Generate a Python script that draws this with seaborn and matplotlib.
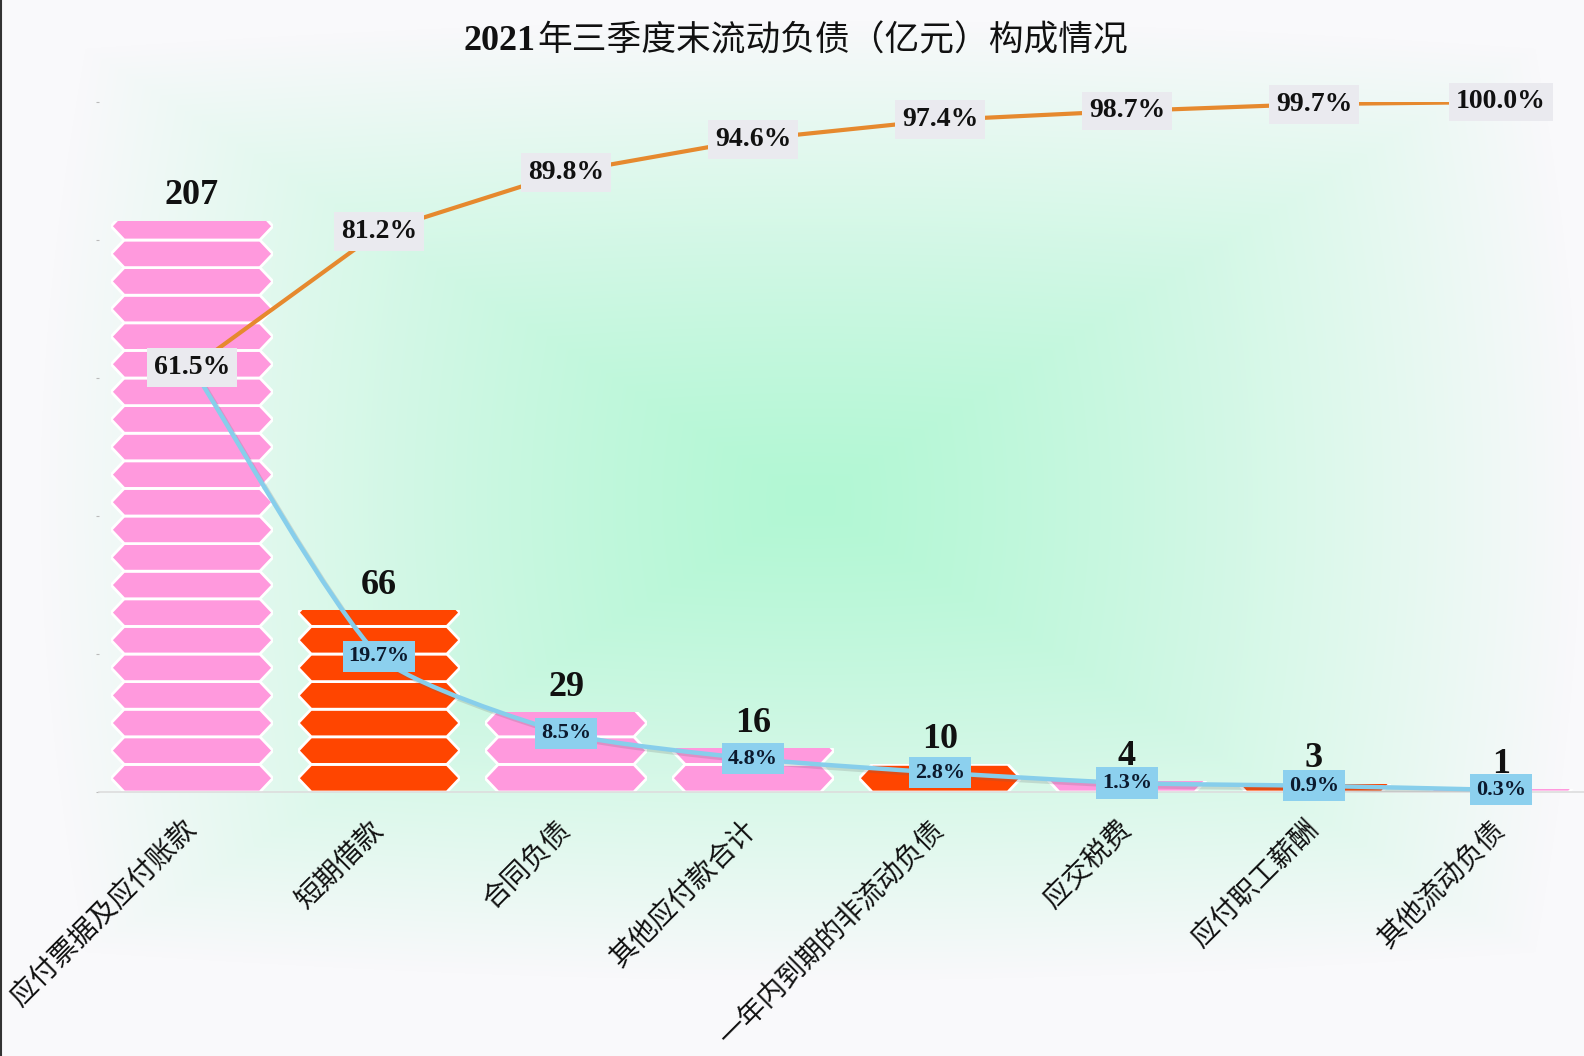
import numpy as np
import matplotlib
matplotlib.use("Agg")
import matplotlib.pyplot as plt
import seaborn as sns
from matplotlib.patches import Polygon, PathPatch
from matplotlib.path import Path
import matplotlib.patheffects as pe
from matplotlib.lines import Line2D

# ---------------- data ----------------
categories = ["应付票据及应付账款", "短期借款", "合同负债", "其他应付款合计",
              "一年内到期的非流动负债", "应交税费", "应付职工薪酬", "其他流动负债"]
values = [207, 66, 29, 16, 10, 4, 3, 1]
share_pct = [61.5, 19.7, 8.5, 4.8, 2.8, 1.3, 0.9, 0.3]
cum_pct = [61.5, 81.2, 89.8, 94.6, 97.4, 98.7, 99.7, 100.0]
bar_colors = ["#FF99DD", "#FF4500", "#FF99DD", "#FF99DD",
              "#FF4500", "#FF99DD", "#FF4500", "#FF99DD"]
title_num = "2021"
title_txt = "年三季度末流动负债（亿元）构成情况"

SERIF = ["Liberation Serif", "Noto Sans CJK SC"]
CJK = ["Noto Sans CJK SC", "DejaVu Sans"]
plt.rcParams["font.family"] = CJK

W, H = 1584, 1056
fig = plt.figure(figsize=(W / 100, H / 100), dpi=100)
fig.patch.set_facecolor("#F9F9FB")

# ---------------- background gradient ----------------
bg = fig.add_axes([0, 0, 1, 1], zorder=-10)
yy, xx = np.mgrid[0:H, 0:W]
cx, cy, rx, ry = 810, 500, 770, 480
dx = np.abs(xx - cx) / rx
dy = np.abs(yy - cy) / ry
d = 0.85 * np.maximum(dx, dy) + 0.15 * np.hypot(dx, dy)
t = np.clip(d, 0, 1) ** 1.25
c0 = np.array([178, 247, 212]) / 255
c1 = np.array([249, 249, 251]) / 255
img = c0 * (1 - t[..., None]) + c1 * t[..., None]
bg.imshow(img, aspect="auto", interpolation="bilinear")
bg.axis("off")

# ---------------- main axes ----------------
left, right, base, top = 98.5, 1594.5, 792, 102
ax = fig.add_axes([left / W, (H - base) / H, (right - left) / W, (base - top) / H])
ax.set_facecolor("none")

sns.barplot(x=categories, y=values, order=categories, hue=categories,
            palette=bar_colors, legend=False, width=0.866, errorbar=None, ax=ax)
ax.set_xlim(-0.5, len(categories) - 0.5)
ax.set_ylim(0, 250)

period = 10.0   # symbol repeat height (data units)
tip = 0.07      # hexagon tip depth (category units)
xpos = []
for p, col, v in zip(ax.patches, bar_colors, values):
    x0, w, h = p.get_x(), p.get_width(), p.get_height()
    xpos.append(x0 + w / 2)
    p.set_facecolor("none")
    p.set_edgecolor("none")
    n = int(np.ceil(h / period))
    for k in range(n):
        y0 = k * period
        y1 = y0 + period
        ym = (y0 + y1) / 2
        hexv = [(x0, ym), (x0 + tip, y0), (x0 + w - tip, y0),
                (x0 + w, ym), (x0 + w - tip, y1), (x0 + tip, y1)]
        poly = Polygon(hexv, closed=True, facecolor=col, edgecolor="white",
                       linewidth=2.0, zorder=2)
        ax.add_patch(poly)
        poly.set_clip_path(p)
    ax.annotate(f"{v}", (x0 + w / 2, h), xytext=(0, 6), textcoords="offset points",
                ha="center", va="bottom", fontsize=26, fontweight="bold",
                family=SERIF, color="#111111", zorder=5)

ax.set_xticks(xpos)
ax.set_xticklabels(categories, rotation=45, ha="right", va="center",
                   rotation_mode="anchor", fontsize=20, family=CJK, color="#111111")
ax.tick_params(axis="x", length=0, pad=24)
ax.set_yticks(range(0, 251, 50))
ax.tick_params(axis="y", length=2, color="#BBBBBB", labelleft=False)
for s in ["top", "right", "left"]:
    ax.spines[s].set_visible(False)
ax.spines["bottom"].set_color("#DDDDDD")
ax.spines["bottom"].set_linewidth(1.2)
ax.set_xlabel("")
ax.set_ylabel("")

# ---------------- secondary axis: percentage lines ----------------
ax2 = ax.twinx()
ax2.set_ylim(0, 100)
ax2.set_xlim(ax.get_xlim())
for s in ax2.spines.values():
    s.set_visible(False)
ax2.set_yticks([])

sns.lineplot(x=xpos, y=cum_pct, ax=ax2, color="#E6892E", linewidth=3,
             sort=False, zorder=3)
sns.lineplot(x=xpos, y=share_pct, ax=ax2, color="#87CEEB", linewidth=3,
             sort=False, zorder=3)
blue_line = ax2.lines[-1]
xy = blue_line.get_xydata()
blue_line.set_visible(False)


def smooth_path(pts, sx, sy, smooth=0.2):
    P = np.column_stack([pts[:, 0] * sx, pts[:, 1] * sy])
    n = len(P)
    cps = []
    for i in range(n):
        prev = P[max(i - 1, 0)]
        nxt = P[min(i + 1, n - 1)]
        v = nxt - prev
        d0 = np.linalg.norm(P[i] - prev)
        d1 = np.linalg.norm(nxt - P[i])
        s = d0 + d1 if d0 + d1 > 0 else 1.0
        cps.append((P[i] - v * smooth * d0 / s, P[i] + v * smooth * d1 / s))
    verts = [P[0]]
    codes = [Path.MOVETO]
    for i in range(n - 1):
        a = cps[i][1].copy()
        b = cps[i + 1][0].copy()
        lo, hi = min(P[i][1], P[i + 1][1]), max(P[i][1], P[i + 1][1])
        a[1] = np.clip(a[1], lo, hi)
        b[1] = np.clip(b[1], lo, hi)
        verts += [a, b, P[i + 1]]
        codes += [Path.CURVE4] * 3
    verts = np.array(verts)
    verts[:, 0] /= sx
    verts[:, 1] /= sy
    return Path(verts, codes)


bpath = smooth_path(xy, 187.0, 6.9)
bpatch = PathPatch(bpath, fill=False, edgecolor="#87CEEB", linewidth=3.2, zorder=4,
                   path_effects=[pe.SimpleLineShadow(offset=(2, -2), shadow_color="#666666",
                                                     alpha=0.2),
                                 pe.Normal()])
ax2.add_patch(bpatch)

for x, v, c in zip(xpos, share_pct, cum_pct):
    if np.isclose(v, c):
        continue  # hidden under the identical cumulative label
    ax2.text(x, v, f"{v:.1f}%", ha="center", va="center", fontsize=16,
             fontweight="bold", family=SERIF, color="#0C1A2E", zorder=5,
             bbox=dict(boxstyle="square,pad=0.25", fc="#8CD0EE", ec="none"))

for x, v in zip(xpos, cum_pct):
    ax2.text(x, v, f"{v:.1f}%", ha="center", va="center", fontsize=20,
             fontweight="bold", family=SERIF, color="#111111", zorder=6,
             bbox=dict(boxstyle="square,pad=0.25", fc="#EAEAEF", ec="none"))

# ---------------- title & frame ----------------
r = fig.canvas.get_renderer()
ty = 1 - 50 / H
ta = fig.text(0, ty, title_num, ha="left", va="baseline", fontsize=26,
              fontweight="bold", family=SERIF, color="#111111")
tb = fig.text(0, ty, title_txt, ha="left", va="baseline", fontsize=25,
              fontweight="medium", family=CJK, color="#111111")
wa = ta.get_window_extent(r).width
wb = tb.get_window_extent(r).width
x0 = 795 - (wa + wb) / 2
ta.set_x(x0 / W)
tb.set_x((x0 + wa + 2) / W)

fig.add_artist(Line2D([0.0006, 0.0006], [0, 1], transform=fig.transFigure,
                      color="#333333", linewidth=1.5))

fig.savefig("out.png", dpi=100, facecolor=fig.get_facecolor())
